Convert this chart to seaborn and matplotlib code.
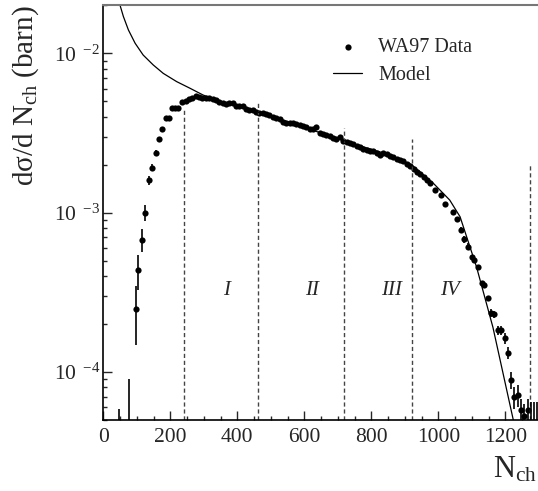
import numpy as np
import pandas as pd
import seaborn as sns
import matplotlib.pyplot as plt
from matplotlib.ticker import FixedLocator, LogLocator, MultipleLocator, FuncFormatter, NullFormatter

# WA97 charged multiplicity distribution
n_ch = [46, 76, 97, 105, 116, 125, 137, 146, 156, 166, 175, 186, 195, 204, 214, 224,
        236, 246, 256, 266, 276, 286, 296, 306, 316,
        326, 336, 346, 356, 366, 376, 386, 396, 406, 416, 426, 436, 446, 456, 466, 476,
        486, 496, 506, 516, 526, 536, 546, 556, 566, 576, 586, 596, 606, 616, 626, 636,
        646, 656, 666, 676, 686, 696, 706, 716, 726, 736, 746, 756, 766, 776, 786, 796,
        806, 816, 826, 836, 846, 856, 866, 876, 886, 896, 906, 916, 926, 936, 946, 956,
        966, 976,
        990, 1007, 1020, 1043, 1057, 1068, 1078, 1090, 1100, 1108, 1117, 1130, 1137, 1147,
        1156, 1167, 1177, 1187, 1199, 1209, 1217, 1227, 1237, 1247, 1257, 1267,
        1276, 1285, 1294]
dsigma = [3.0e-5, 3.0e-5, 2.48e-4, 4.34e-4, 6.76e-4, 1.0e-3, 1.60e-3, 1.92e-3, 2.38e-3,
          2.91e-3, 3.33e-3, 3.93e-3, 3.93e-3, 4.52e-3, 4.52e-3, 4.52e-3,
          4.97e-3, 5.01e-3, 5.13e-3, 5.27e-3, 5.37e-3, 5.31e-3, 5.22e-3, 5.21e-3, 5.25e-3,
          5.18e-3, 5.12e-3, 4.98e-3, 4.90e-3, 4.84e-3, 4.88e-3, 4.86e-3, 4.64e-3, 4.70e-3,
          4.70e-3, 4.48e-3, 4.42e-3, 4.38e-3, 4.30e-3, 4.25e-3, 4.20e-3,
          4.15e-3, 4.07e-3, 4.00e-3, 3.95e-3, 3.87e-3, 3.72e-3, 3.65e-3, 3.66e-3, 3.64e-3,
          3.60e-3, 3.55e-3, 3.50e-3, 3.43e-3, 3.34e-3, 3.36e-3, 3.44e-3,
          3.15e-3, 3.10e-3, 3.07e-3, 3.02e-3, 2.95e-3, 2.88e-3, 3.00e-3, 2.82e-3, 2.77e-3,
          2.72e-3, 2.68e-3, 2.63e-3, 2.59e-3, 2.52e-3, 2.48e-3, 2.45e-3,
          2.42e-3, 2.38e-3, 2.30e-3, 2.38e-3, 2.33e-3, 2.28e-3, 2.22e-3, 2.17e-3, 2.13e-3,
          2.10e-3, 2.03e-3, 1.96e-3, 1.88e-3, 1.81e-3, 1.75e-3, 1.68e-3,
          1.60e-3, 1.53e-3,
          1.39e-3, 1.29e-3, 1.14e-3, 1.01e-3, 9.08e-4, 7.78e-4, 6.79e-4, 6.11e-4, 5.28e-4,
          5.05e-4, 4.57e-4, 3.60e-4, 3.51e-4, 2.90e-4,
          2.35e-4, 2.30e-4, 1.83e-4, 1.83e-4, 1.63e-4, 1.32e-4, 8.9e-5, 6.98e-5, 7.16e-5,
          5.77e-5, 5.31e-5, 5.77e-5,
          3.5e-5, 3.5e-5, 3.5e-5]
dsigma_err = [2.85e-5, 6.1e-5, 1.0e-4, 1.07e-4, 1.1e-4, 1.15e-4, 1.0e-4, 9e-5, 8e-5,
              7e-5, 6e-5, 5e-5, 5e-5, 5e-5, 5e-5, 5e-5,
              5e-5, 5e-5, 5e-5, 5e-5, 5e-5, 5e-5, 5e-5, 5e-5, 5e-5,
              4e-5, 4e-5, 4e-5, 4e-5, 4e-5, 4e-5, 4e-5, 4e-5, 4e-5, 4e-5, 4e-5, 4e-5, 4e-5,
              4e-5, 4e-5, 4e-5, 4e-5, 4e-5, 4e-5, 4e-5, 4e-5, 4e-5, 4e-5, 4e-5, 4e-5, 4e-5,
              4e-5, 4e-5, 4e-5, 4e-5, 4e-5, 4e-5, 4e-5, 4e-5, 4e-5, 4e-5, 4e-5, 4e-5, 4e-5,
              4e-5, 4e-5, 4e-5, 4e-5, 4e-5, 4e-5, 4e-5, 4e-5, 4e-5, 4e-5, 4e-5, 4e-5, 4e-5,
              4e-5, 4e-5, 4e-5, 4e-5, 4e-5, 4e-5, 4e-5, 4e-5, 4e-5, 4e-5, 4e-5, 4e-5,
              4e-5, 4e-5,
              3e-5, 3e-5, 3e-5, 3e-5, 3e-5, 3e-5, 3e-5, 3e-5, 1.5e-5, 1.5e-5, 1.5e-5, 1.5e-5,
              1.5e-5, 1.2e-5,
              1.2e-5, 1.2e-5, 1.2e-5, 1.2e-5, 1.2e-5, 1.2e-5, 1.1e-5, 1.1e-5, 1.1e-5,
              1.0e-5, 1.0e-5, 1.0e-5,
              3e-5, 3e-5, 3e-5]

model_n = [50, 60, 75, 95, 119, 149, 179, 219, 259, 298, 338, 388, 450, 550, 650, 750,
           850, 920, 985, 1034, 1065, 1114, 1163, 1230]
model_dsigma = [2.0e-2, 1.70e-2, 1.40e-2, 1.156e-2, 9.75e-3, 8.45e-3, 7.48e-3, 6.64e-3,
                6.03e-3, 5.47e-3, 5.09e-3, 4.73e-3, 4.37e-3, 3.72e-3, 3.16e-3, 2.69e-3,
                2.32e-3, 2.0e-3, 1.53e-3, 1.20e-3, 9.42e-4, 4.57e-4, 1.91e-4, 4.37e-5]

cut_n = [240, 461, 719, 921, 1274]
cut_top = [4.4e-3, 4.97e-3, 3.4e-3, 2.9e-3, 2.02e-3]
region_labels = ['I', 'II', 'III', 'IV']
region_n = [368, 622, 861, 1035]

sns.set_style('ticks')
plt.rcParams['font.family'] = 'Liberation Serif'
plt.rcParams['mathtext.fontset'] = 'custom'
plt.rcParams['mathtext.rm'] = 'Liberation Serif'
plt.rcParams['mathtext.it'] = 'Liberation Serif:italic'

df = pd.DataFrame({'N': n_ch, 'y': dsigma, 'err': dsigma_err})
model = pd.DataFrame({'N': model_n, 'y': model_dsigma})

fig = plt.figure(figsize=(5.38, 4.91), dpi=100)
ax = fig.add_axes([0.192, 0.1446, 0.8095, 0.8446])
ax.set_yscale('log')
ax.set_xlim(0, 1300)
ax.set_ylim(5e-5, 2e-2)

ax.vlines(cut_n, 5e-5, cut_top, colors='#444444', linestyles=(0, (3, 2)), lw=1.0)

lo = np.minimum(df['err'], 0.95 * df['y'])
ax.errorbar(df['N'], df['y'], yerr=[lo, df['err']], fmt='none', ecolor='black',
            elinewidth=1.2, capsize=0)
sns.scatterplot(data=df, x='N', y='y', ax=ax, color='black', s=20, linewidth=0,
                label='WA97 Data')
sns.lineplot(data=model, x='N', y='y', ax=ax, color='black', lw=0.9, sort=False,
             estimator=None, label='Model')

for lab, n in zip(region_labels, region_n):
    ax.text(n, 3.27e-4, lab, style='italic', fontsize=15, ha='center', va='center')

ax.xaxis.set_major_locator(MultipleLocator(200))
ax.xaxis.set_minor_locator(MultipleLocator(50))
ax.yaxis.set_major_locator(FixedLocator([1e-4, 1e-3, 1e-2]))
ax.yaxis.set_minor_locator(LogLocator(base=10, subs=np.arange(2, 10)))
ax.yaxis.set_minor_formatter(NullFormatter())
ax.yaxis.set_major_formatter(FuncFormatter(
    lambda v, p: r'$\mathregular{10}^{\ \ \mathregular{-%d}}$' % abs(round(np.log10(v)))))
ax.tick_params(which='both', direction='in', top=False, right=False, labelsize=15.5,
               width=1.0, labelfontfamily='Liberation Serif')
ax.tick_params(which='major', length=6.5)
ax.tick_params(which='minor', length=3.2)
ax.tick_params(axis='x', pad=6)
ax.tick_params(axis='y', pad=2)
ax.set_xlabel('')
ax.set_ylabel('')

ax.spines['right'].set_visible(False)
ax.spines['top'].set_color('#777777')
ax.spines['top'].set_linewidth(1.5)
for s in ['left', 'bottom']:
    ax.spines[s].set_linewidth(1.2)
    ax.spines[s].set_color('black')

h, l = ax.get_legend_handles_labels()
ax.legend(h, l, loc='upper left', bbox_to_anchor=(333 / 538, 1 - 38 / 491),
          bbox_transform=fig.transFigure, frameon=False, fontsize=14.5,
          handlelength=1.45, handletextpad=0.8, borderpad=0, borderaxespad=0,
          labelspacing=0.45, scatterpoints=1)

fig.text(26 / 538, 1 - 5 / 491, 'dσ/d N$_{\\mathregular{ch}}$ (barn)',
         rotation=90, ha='center', va='top', fontsize=21)
fig.text(537 / 538, 1 - 477 / 491, 'N$_{\\mathregular{ch}}$', ha='right',
         va='baseline', fontsize=22)

fig.savefig('out.png', dpi=100)
